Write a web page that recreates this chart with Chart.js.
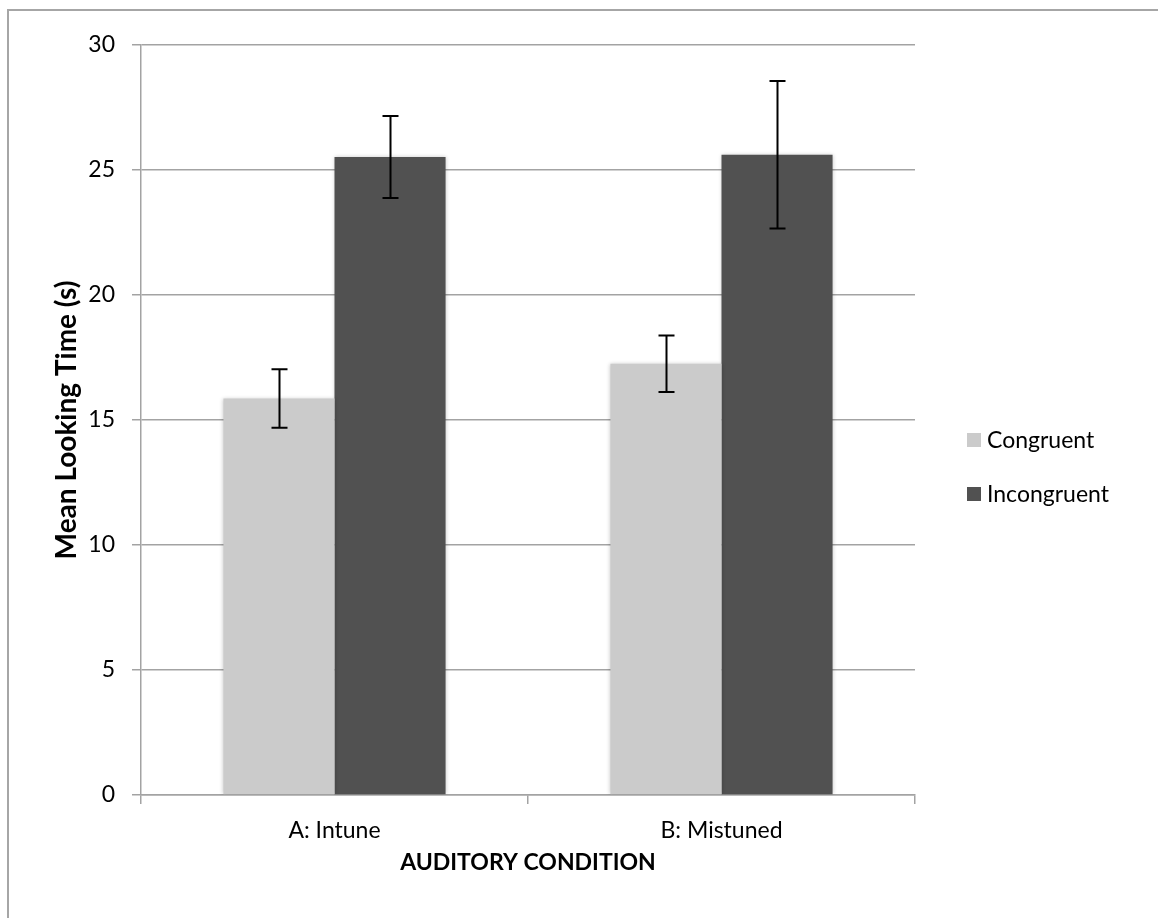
<!DOCTYPE html>
<html>
<head>
<meta charset="utf-8">
<script src="https://cdn.jsdelivr.net/npm/chart.js@4.4.1/dist/chart.umd.min.js"></script>
<style>
  html, body { margin: 0; padding: 0; background: #ffffff; overflow: hidden; }
  #wrap { position: relative; width: 1158px; height: 918px; }
  #frame { position: absolute; left: 7px; top: 9px; width: 1200px; height: 1000px;
           border-top: 2px solid #a6a6a6; border-left: 2px solid #a6a6a6; pointer-events: none; }
  canvas { position: absolute; left: 0; top: 0; }
</style>
</head>
<body>
<div id="wrap">
  <canvas id="c" width="1158" height="918"></canvas>
  <div id="frame"></div>
</div>
<script>
// ---- data ----
const categories = ['A: Intune', 'B: Mistuned'];
const seriesNames = ['Congruent', 'Incongruent'];
const congruent = [15.86, 17.25];
const incongruent = [25.52, 25.61];
const congruentErr = [1.17, 1.13];
const incongruentErr = [1.64, 2.95];
const yTicks = [0, 5, 10, 15, 20, 25, 30];

const FONT = 'Lato, "Open Sans", sans-serif';
const GRID = '#a3a3a3';

const errorBarPlugin = {
  id: 'errorBars',
  afterDatasetsDraw(chart) {
    const ctx = chart.ctx;
    const y = chart.scales.y;
    ctx.save();
    ctx.shadowColor = 'transparent';
    ctx.strokeStyle = '#000000';
    ctx.lineWidth = 2;
    chart.data.datasets.forEach((ds, di) => {
      const meta = chart.getDatasetMeta(di);
      meta.data.forEach((bar, i) => {
        const v = ds.data[i], e = ds.errors[i];
        const yt = y.getPixelForValue(v + e);
        const yb = y.getPixelForValue(v - e);
        const x = Math.round(bar.x) + 0.5;
        ctx.beginPath();
        ctx.moveTo(x, yt); ctx.lineTo(x, yb);
        ctx.moveTo(x - 8, yt); ctx.lineTo(x + 8, yt);
        ctx.moveTo(x - 8, yb); ctx.lineTo(x + 8, yb);
        ctx.stroke();
      });
    });
    ctx.restore();
  }
};

const shadowPlugin = {
  id: 'barShadow',
  beforeDatasetsDraw(chart) {
    const ctx = chart.ctx;
    ctx.save();
    ctx.shadowColor = 'rgba(0,0,0,0.22)';
    ctx.shadowBlur = 4;
    ctx.shadowOffsetX = 0;
    ctx.shadowOffsetY = 0;
  },
  afterDatasetsDraw(chart) {
    chart.ctx.restore();
  }
};

const legendPlugin = {
  id: 'sideLegend',
  afterDraw(chart) {
    const ctx = chart.ctx;
    const area = chart.chartArea;
    const x0 = area.right + 52;
    const ys = [440, 494];
    ctx.save();
    ctx.font = '23px ' + FONT;
    ctx.textBaseline = 'middle';
    ctx.textAlign = 'left';
    chart.data.datasets.forEach((ds, i) => {
      ctx.fillStyle = ds.backgroundColor;
      ctx.fillRect(x0, ys[i] - 7, 14, 14);
      ctx.fillStyle = '#000000';
      ctx.fillText(ds.label, x0 + 20, ys[i] + 1);
    });
    ctx.restore();
  }
};

new Chart(document.getElementById('c'), {
  type: 'bar',
  data: {
    labels: categories,
    datasets: [
      { label: seriesNames[0], data: congruent, errors: congruentErr,
        backgroundColor: '#cbcbcb', borderWidth: 0 },
      { label: seriesNames[1], data: incongruent, errors: incongruentErr,
        backgroundColor: '#515151', borderWidth: 0 }
    ]
  },
  options: {
    responsive: false,
    animation: false,
    devicePixelRatio: 1,
    layout: { padding: { top: 45, right: 243, bottom: 0, left: 0 } },
    datasets: { bar: { categoryPercentage: 0.574, barPercentage: 1.0 } },
    plugins: {
      legend: { display: false },
      tooltip: { enabled: false }
    },
    scales: {
      x: {
        grid: { display: true, drawOnChartArea: false, drawTicks: true, tickLength: 9,
                color: GRID, lineWidth: 1.5, offset: true },
        border: { display: true, color: GRID, width: 1.5 },
        ticks: { color: '#000000', font: { family: FONT, size: 23 }, padding: 13 },
        title: { display: true, text: 'AUDITORY CONDITION', color: '#000000',
                 font: { family: FONT, size: 23, weight: 'bold' }, padding: { top: 0, bottom: 42 } },
        afterFit(scale) { scale.height = 123; }
      },
      y: {
        min: 0, max: 30,
        afterBuildTicks(scale) { scale.ticks = yTicks.map(v => ({ value: v })); },
        grid: { color: GRID, lineWidth: 1.5, drawTicks: true, tickLength: 9 },
        border: { display: true, color: GRID, width: 1.5 },
        ticks: { color: '#000000', font: { family: FONT, size: 23 }, padding: 17 },
        title: { display: true, text: 'Mean Looking Time (s)', color: '#000000',
                 font: { family: FONT, size: 28, weight: 'bold' }, padding: { top: 50, bottom: 0 } },
        afterFit(scale) { scale.width = 141; }
      }
    }
  },
  plugins: [shadowPlugin, errorBarPlugin, legendPlugin]
});
</script>
</body>
</html>
